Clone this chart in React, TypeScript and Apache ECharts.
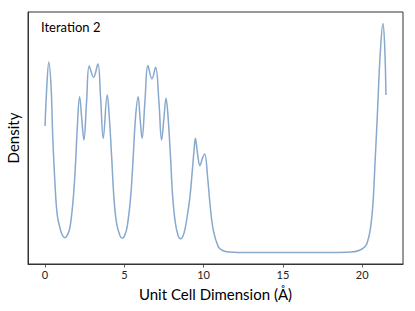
import React, { useEffect, useRef } from "react";
import * as echarts from "echarts";

const xValues = [
  0, 0.1, 0.24, 0.385, 0.49, 0.62, 0.77, 0.98, 1.1, 1.25, 1.4, 1.57, 1.78, 1.93, 2.03, 2.18, 2.32, 2.45,
  2.62, 2.79, 3.06, 3.33, 3.5, 3.67, 3.92, 4.05, 4.2, 4.34, 4.51, 4.72, 4.87, 5.02, 5.18, 5.4, 5.56, 5.71,
  5.87, 6.0, 6.12, 6.3, 6.49, 6.74, 6.97, 7.18, 7.35, 7.49, 7.63, 7.76, 7.91, 8.05, 8.22, 8.4, 8.55, 8.7,
  8.85, 8.98, 9.14, 9.29, 9.4, 9.48, 9.62, 9.77, 9.92, 10.07, 10.25, 10.4, 10.61, 10.93, 11.2, 11.6, 12.2,
  15, 18, 19.3, 19.87, 20.3, 20.61, 20.82, 20.99, 21.14, 21.31, 21.42, 21.5,
];

const density = [
  0.552, 0.71, 0.832, 0.717, 0.499, 0.309, 0.164, 0.097, 0.075, 0.065, 0.075, 0.109, 0.237, 0.397, 0.542,
  0.68, 0.58, 0.491, 0.66, 0.814, 0.765, 0.823, 0.68, 0.499, 0.688, 0.593, 0.418, 0.244, 0.128, 0.074,
  0.062, 0.074, 0.113, 0.244, 0.418, 0.593, 0.68, 0.58, 0.499, 0.66, 0.816, 0.758, 0.809, 0.66, 0.491,
  0.58, 0.673, 0.59, 0.42, 0.244, 0.128, 0.072, 0.06, 0.072, 0.11, 0.165, 0.244, 0.36, 0.448, 0.499,
  0.43, 0.379, 0.41, 0.43, 0.33, 0.215, 0.098, 0.025, 0.009, 0.002, 0, 0, 0, 0.002, 0.011, 0.04, 0.156,
  0.404, 0.652, 0.87, 1.0, 0.9, 0.688,
];

const xTicks = [0, 5, 10, 15, 20];
const titleText = "Iteration 2";
const xLabel = "Unit Cell Dimension (Å)";
const yLabel = "Density";

const FONT = "Lato, 'DejaVu Sans', sans-serif";

export default function App() {
  const ref = useRef<HTMLDivElement>(null);
  useEffect(() => {
    if (!ref.current) return;
    const chart = echarts.init(ref.current, null, { renderer: "svg" });
    chart.setOption({
      animation: false,
      backgroundColor: "#ffffff",
      grid: {
        left: 28,
        top: 12,
        right: 12,
        bottom: 47,
        outerBoundsMode: "none",
        containLabel: false,
        show: true,
        borderColor: "#333333",
        borderWidth: 1,
        backgroundColor: "transparent",
      },
      title: {
        text: titleText,
        left: 41,
        top: 20,
        padding: 0,
        textStyle: { fontFamily: FONT, fontSize: 13, fontWeight: "normal", color: "#000" },
      },
      xAxis: {
        type: "value",
        min: -1.075,
        max: 22.575,
        name: xLabel,
        nameLocation: "middle",
        nameGap: 22,
        nameTextStyle: { fontFamily: FONT, fontSize: 15, color: "#000" },
        axisLine: { show: true, onZero: false, lineStyle: { color: "#333", width: 1 } },
        axisTick: { show: true, length: 3.5, customValues: xTicks, lineStyle: { color: "#333", width: 0.8 } },
        axisLabel: { show: true, customValues: xTicks, fontFamily: FONT, fontSize: 11, color: "#222", margin: 5 },
        splitLine: { show: false },
      },
      yAxis: {
        type: "value",
        min: -0.05,
        max: 1.05,
        name: yLabel,
        nameLocation: "middle",
        nameGap: 8,
        nameTextStyle: { fontFamily: FONT, fontSize: 15, color: "#000" },
        axisLine: { show: true, onZero: false, lineStyle: { color: "#333", width: 1 } },
        axisTick: { show: false },
        axisLabel: { show: false },
        splitLine: { show: false },
      },
      series: [
        {
          type: "line",
          data: xValues.map((x, i) => [x, density[i]]),
          smooth: 0.4,
          showSymbol: false,
          lineStyle: { color: "#88a8cd", width: 1.5 },
        },
      ],
    });
    return () => chart.dispose();
  }, []);
  return <div ref={ref} style={{ position: "fixed", left: 0, top: 0, width: 415, height: 311 }} />;
}
